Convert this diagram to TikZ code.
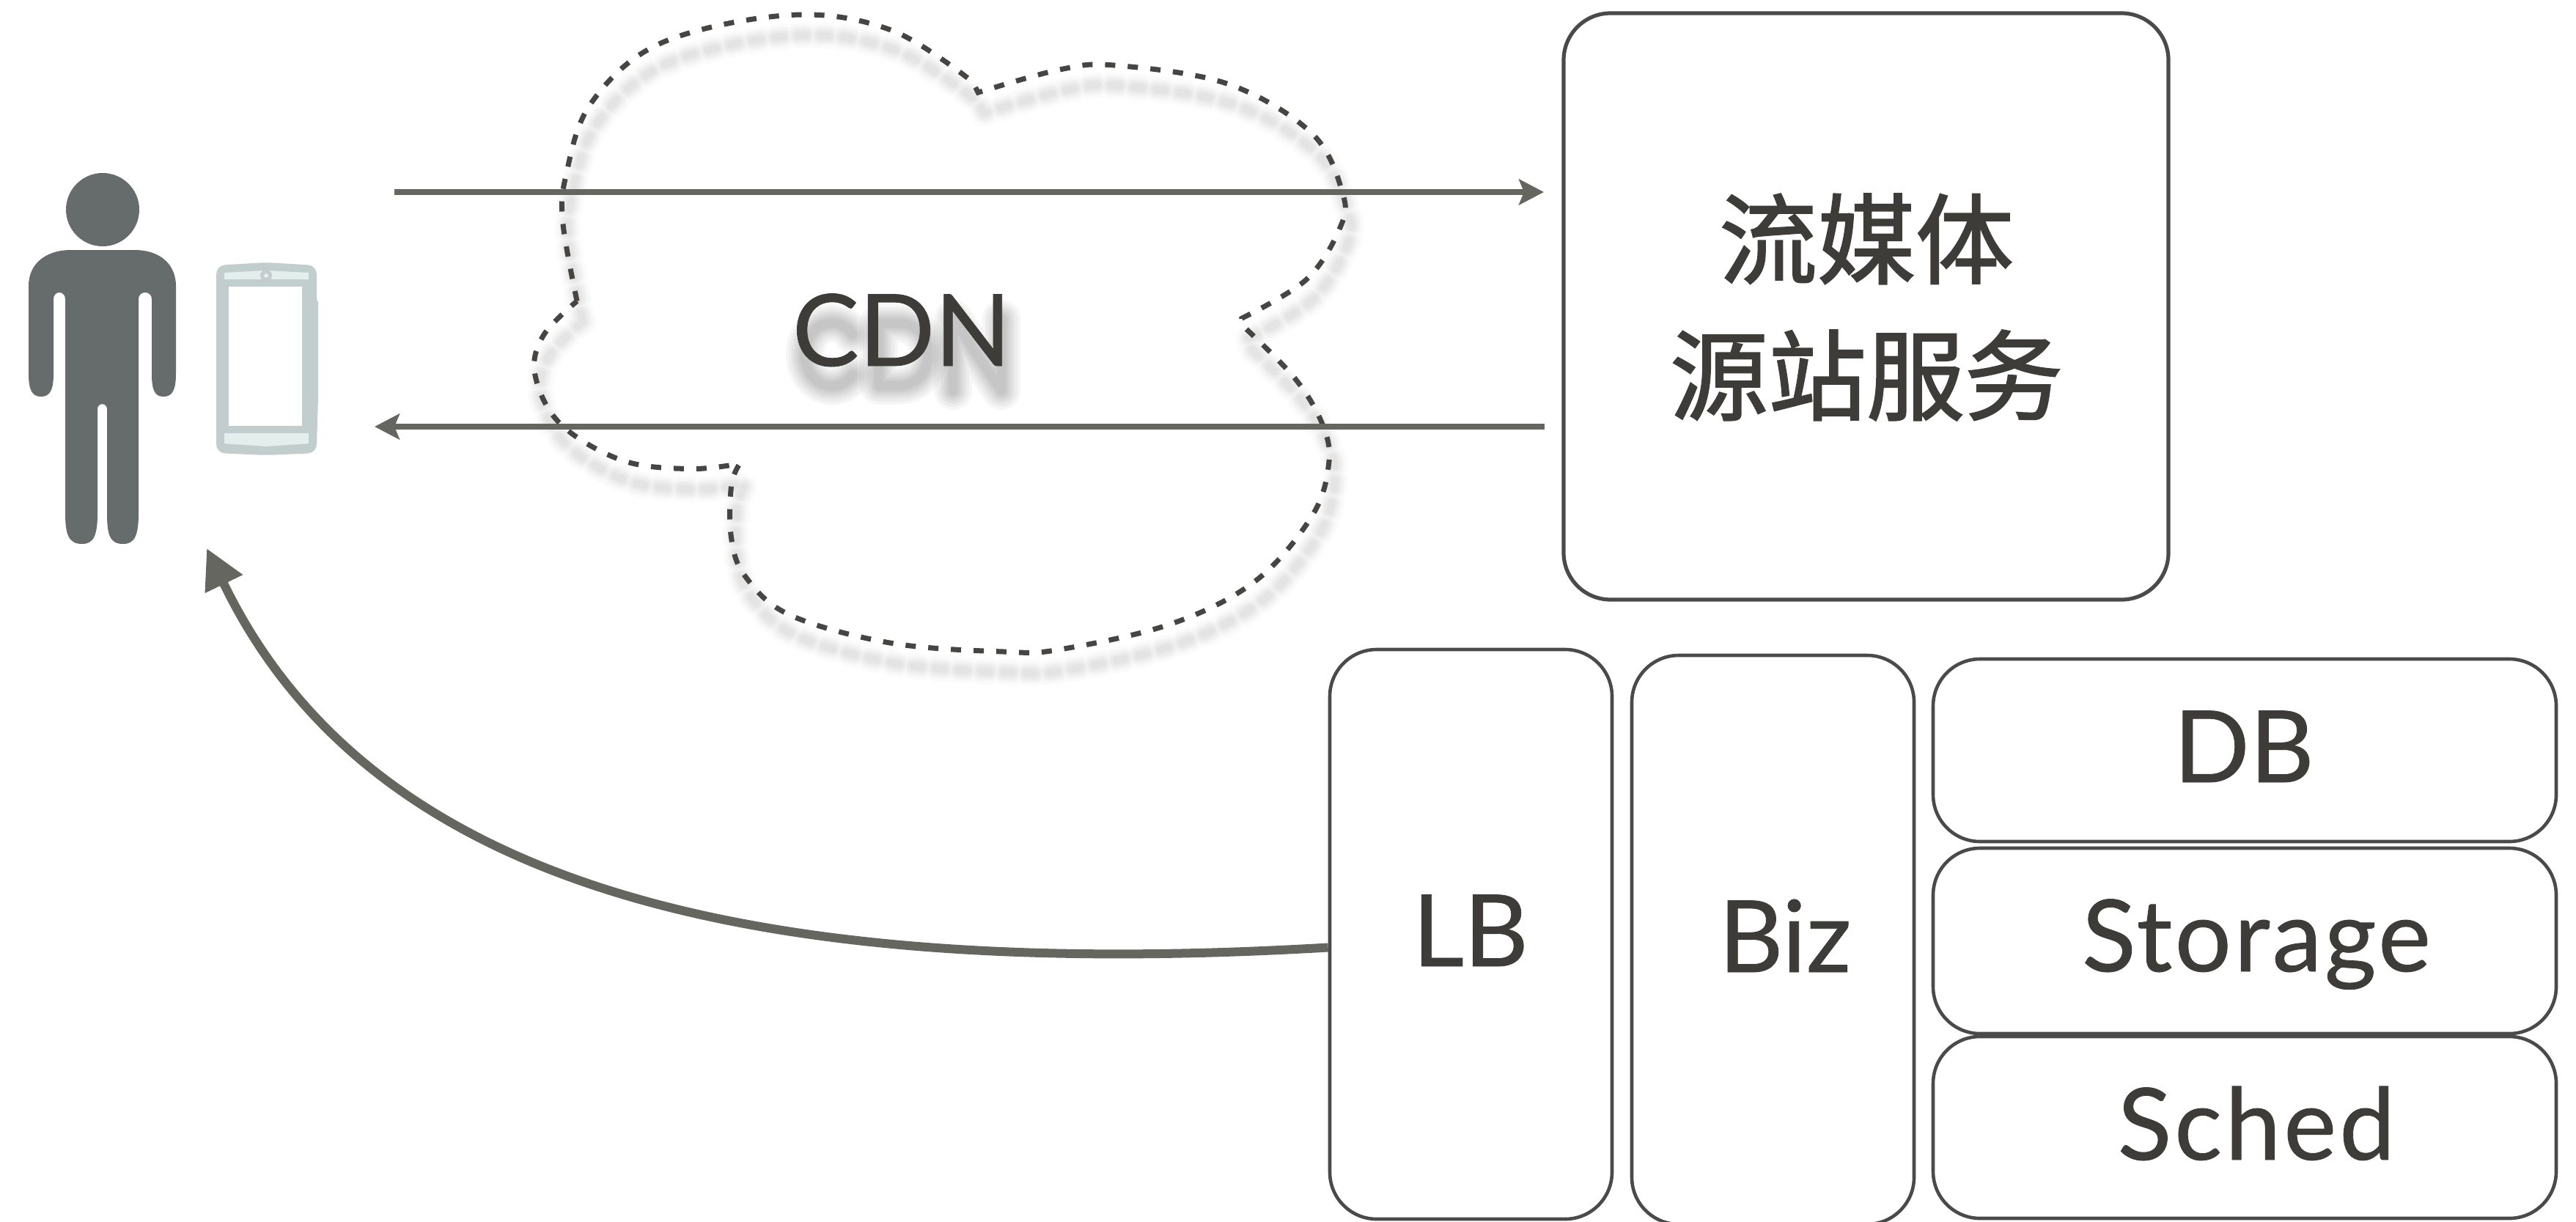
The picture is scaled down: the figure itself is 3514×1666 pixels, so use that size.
\documentclass[tikz,border=0pt]{standalone}
\usepackage{fontspec}
\setmainfont{Lato}[FakeBold=0.6]
\newfontfamily\cjkfont{Noto Sans CJK SC}[FakeBold=1.6]
\usetikzlibrary{arrows.meta}
\definecolor{inkc}{HTML}{3D3C38}
\definecolor{boxc}{HTML}{4A4A4A}
\definecolor{arrowc}{HTML}{666660}
\definecolor{personc}{HTML}{666B6B}
\definecolor{phonec}{HTML}{C1CECD}
\definecolor{phonel}{HTML}{E4EFED}
\definecolor{camc}{HTML}{C5CCCE}
\definecolor{cloudc}{HTML}{474543}
\tikzset{
  panel/.style={draw=boxc,line width=2.3pt,rounded corners=32pt,inner sep=0pt,fill=white},
  lbl/.style={text=inkc,font=\fontsize{68}{68}\selectfont,anchor=base,inner sep=0pt},
  flow/.style={draw=arrowc,line width=4pt,-{Stealth[length=17pt,width=17.5pt,inset=3.5pt]}},
  backflow/.style={draw=arrowc,line width=6pt,-{Triangle[length=27pt,width=27pt]}},
  cshadow/.style={draw=black,line cap=round,line join=round},
  cloudline/.style={draw=cloudc,line width=3.5pt,dash pattern=on 7pt off 8.5pt}
}
\def\cloudpath{
  plot[smooth,tension=.6] coordinates {(140,700)(115,520)(120,410)(165,240)(290,100)(520,35)(700,70)(845,190)}
  -- plot[smooth,tension=.6] coordinates {(855,215)(1000,162)(1100,152)(1300,195)(1450,310)(1505,450)(1500,530)(1440,650)(1325,740)}
  -- plot[smooth,tension=.6] coordinates {(1325,755)(1420,880)(1470,990)(1480,1080)(1450,1200)(1350,1350)(1200,1450)(1000,1510)(900,1515)(700,1495)(520,1430)(440,1340)(415,1250)(415,1130)(430,1078)}
  -- plot[smooth,tension=.6] coordinates {(430,1078)(340,1090)(220,1070)(110,985)(65,870)(80,780)(140,700)}
}
\begin{document}
\begin{tikzpicture}[x=0.5pt,y=-0.5pt]
\useasboundingbox (0,0) rectangle (3514,1666);
% cloud shadow
\begin{scope}[xshift=344pt,yshift=-14pt,x=0.3826pt,y=-0.2934pt]
  \foreach \w/\o in {18/.016,14/.018,11/.022,8/.024,5/.026}{
    \draw[cshadow,line width=\w pt,opacity=\o,dash pattern=on 6pt off 9.5pt] \cloudpath;
  }
\end{scope}
% cloud outline
\begin{scope}[xshift=340pt,x=0.3826pt,y=-0.2934pt]
  \draw[cloudline] \cloudpath;
\end{scope}
% CDN text shadow
\foreach \w in {26,22,18,15,12,9,6}{
  \begin{scope}[line width=\w pt,opacity=.036,cshadow]
    \draw (1163,456) arc[start angle=-40,end angle=-320,x radius=37,y radius=43];
    \draw (1199,441) -- (1199,526) -- (1225,526) .. controls (1280,526) and (1280,441) .. (1225,441) -- cycle;
    \draw (1300,533) -- (1300,435) -- (1366,533) -- (1366,435);
  \end{scope}
}
% person
\fill[personc] (140,286) circle[radius=50];
\fill[personc] (97,341) -- (183,341) .. controls (220,341) and (240,362) .. (240,390)
  -- (240,510) .. controls (240,534) and (234,541) .. (223,541) .. controls (212,541) and (207,534) .. (207,510)
  -- (207,408) .. controls (207,396) and (189,396) .. (189,408)
  -- (189,700) .. controls (189,730) and (184,742) .. (168,742) .. controls (150,742) and (146,730) .. (146,700)
  -- (146,558) .. controls (146,549) and (133,549) .. (133,558)
  -- (133,700) .. controls (133,730) and (128,742) .. (112,742) .. controls (94,742) and (89,730) .. (89,700)
  -- (89,408) .. controls (89,396) and (73,396) .. (73,408)
  -- (73,510) .. controls (73,534) and (67,541) .. (56,541) .. controls (45,541) and (39,534) .. (39,510)
  -- (39,390) .. controls (39,360) and (62,341) .. (97,341) -- cycle;
% phone
\fill[phonec] (425,408) -- (431,408) -- (434,412) -- (434,544) -- (432,605) -- (425,605) -- cycle;
\fill[phonec,rounded corners=6pt] (295,362) -- (363,358) -- (432,362) -- (432,618) -- (363,621) -- (295,618) -- cycle;
\fill[white] (312,391) rectangle (412,581);
\fill[phonel] (306,372) -- (363,369) -- (421,372) -- (421,381) -- (306,381) -- cycle;
\fill[phonel] (306,591) -- (421,591) -- (421,605) -- (363,609) -- (306,605) -- cycle;
\fill[camc] (363,376) circle[radius=8];
\fill[phonel] (363,376) circle[radius=3];
% boxes
\node[panel,line width=2.6pt,minimum width=412.5pt,minimum height=400pt] (src) at (2545.5,418) {};
\node[panel,minimum width=192.5pt,minimum height=388.5pt] (lb) at (2006.5,1274.5) {};
\node[panel,minimum width=192.5pt,minimum height=388pt] (biz) at (2418.5,1282) {};
\node[panel,minimum width=425pt,minimum height=124.5pt] (db) at (3062,1023.5) {};
\node[panel,minimum width=425pt,minimum height=126.5pt] (store) at (3062,1283.5) {};
\node[panel,minimum width=425pt,minimum height=124pt] (sched) at (3062,1538) {};
% labels
\node[lbl] (cdntext) at (1230,499) {CDN};
\node[lbl] (lbtext) at (2006,1318) {LB};
\node[lbl] (biztext) at (2435,1326) {Biz};
\node[lbl] (dbtext) at (3061,1067) {DB};
\node[lbl] (storetext) at (3078,1325) {\addfontfeatures{LetterSpace=2.7}Storage};
\node[lbl] (schedtext) at (3078,1582) {\addfontfeatures{LetterSpace=3}Sched};
\node[text=inkc,font=\cjkfont\fontsize{67}{93}\selectfont,align=center,inner sep=0pt] (srctext) at (2546,419) {流媒体\\源站服务};
% connectors
\coordinate (upstart) at (538,262);
\coordinate (upend) at (2106,262);
\coordinate (downstart) at (2107,582);
\coordinate (downend) at (511,582);
\coordinate (backend) at (282,748);
\draw[flow] (upstart) -- (upend);
\draw[flow] (downstart) -- (downend);
\draw[backflow] ([yshift=-9pt]lb.west) .. controls (1000,1340) and (500,1200) .. (backend);
\end{tikzpicture}
\end{document}
